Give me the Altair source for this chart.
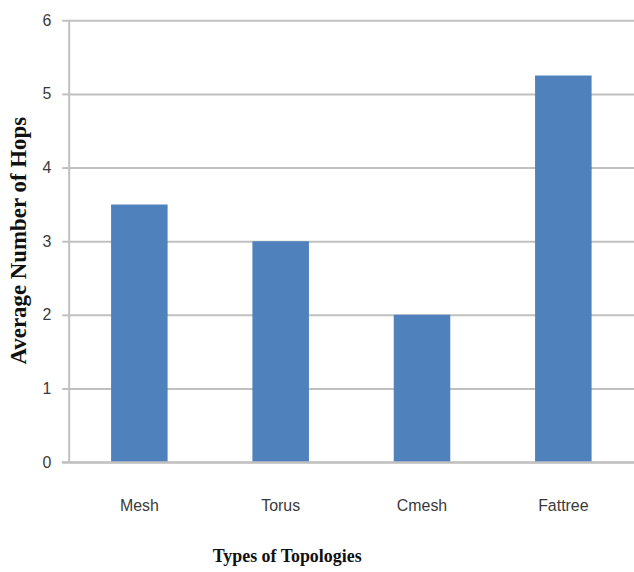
import altair as alt
import pandas as pd

# Average hop count per network topology
topologies = ["Mesh", "Torus", "Cmesh", "Fattree"]
avg_hops = [3.5, 3.0, 2.0, 5.25]

df = pd.DataFrame({"topology": topologies, "hops": avg_hops})

grid_gray = "#c0c0c0"
label_color = "#3a3a3a"

bars = alt.Chart(df).mark_bar(color="#4f81bd").encode(
    x=alt.X(
        "topology:N",
        sort=topologies,
        scale=alt.Scale(paddingInner=0.6, paddingOuter=0.3),
        axis=alt.Axis(
            title="Types of Topologies",
            titleFont="Liberation Serif",
            titleFontSize=18,
            titleFontWeight="bold",
            titleColor="#111111",
            titleX=219,
            titleY=95,
            titleBaseline="middle",
            labelAngle=0,
            labelFont="Liberation Sans",
            labelFontSize=16,
            labelColor=label_color,
            labelPadding=36,
            ticks=False,
            tickSize=0,
            domain=False,
            grid=False,
        ),
    ),
    y=alt.Y(
        "hops:Q",
        scale=alt.Scale(domain=[0, 6], nice=False),
        axis=alt.Axis(
            title="Average Number of Hops",
            titleFont="Liberation Serif",
            titleFontSize=23,
            titleFontWeight="bold",
            titleColor="#111111",
            titleAngle=270,
            titleX=-50,
            titleY=221,
            titleBaseline="middle",
            values=[0, 1, 2, 3, 4, 5, 6],
            format="d",
            labelFont="Liberation Sans",
            labelFontSize=16,
            labelColor=label_color,
            labelPadding=11,
            tickSize=7,
            tickColor=grid_gray,
            tickWidth=2,
            domainColor=grid_gray,
            domainWidth=2,
            gridColor=grid_gray,
            gridWidth=2,
        ),
    ),
)

# Horizontal baseline along zero, running slightly left of the y axis
baseline = alt.Chart(pd.DataFrame({"y0": [0]})).mark_rule(
    color=grid_gray, strokeWidth=2
).encode(
    y="y0:Q",
    x=alt.value(-7),
    x2=alt.value(568),
)

chart = (
    alt.layer(bars, baseline)
    .properties(
        width=568,
        height=444,
        autosize=alt.AutoSizeParams(type="none"),
        padding={"left": 69, "top": 19, "right": 0, "bottom": 109},
        background="white",
    )
    .configure_view(stroke=None)
)

chart.save("out.html", embed_options={"renderer": "svg", "actions": False})
